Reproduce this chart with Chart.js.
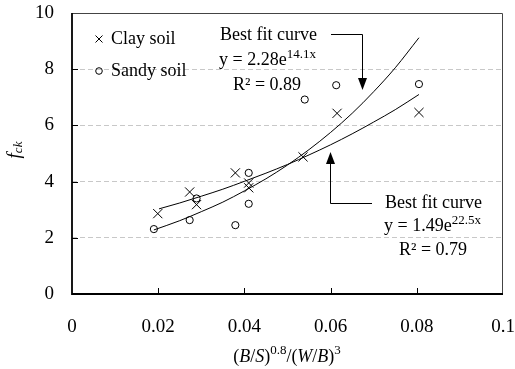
<!DOCTYPE html>
<html>
<head>
<meta charset="utf-8">
<script src="https://cdn.jsdelivr.net/npm/chart.js@4.4.1/dist/chart.umd.min.js"></script>
<style>
  html, body { margin: 0; padding: 0; background: #fff; }
</style>
</head>
<body>
<canvas id="chart" width="515" height="369"></canvas>
<script>
// measured points
const clayX = [0.0199, 0.0273, 0.0289, 0.0379, 0.041, 0.041, 0.0536, 0.0615, 0.0805];
const clayY = [2.86, 3.63, 3.18, 4.31, 3.95, 3.78, 4.88, 6.43, 6.46];
const sandyX = [0.019, 0.0273, 0.0289, 0.0379, 0.041, 0.041, 0.054, 0.0613, 0.0805];
const sandyY = [2.31, 2.63, 3.40, 2.45, 4.31, 3.21, 6.92, 7.43, 7.47];

// best fit curves
const sandyFitX = [0.019, 0.025, 0.03, 0.035, 0.04, 0.045, 0.05, 0.055, 0.06, 0.065, 0.07, 0.075, 0.0805];
const sandyFitY = [2.28, 2.61, 2.93, 3.27, 3.67, 4.10, 4.59, 5.14, 5.75, 6.43, 7.20, 8.05, 9.12];
const clayFitX = [0.0202, 0.025, 0.03, 0.035, 0.04, 0.045, 0.05, 0.055, 0.06, 0.065, 0.07, 0.075, 0.0805];
const clayFitY = [3.03, 3.24, 3.48, 3.73, 4.01, 4.30, 4.61, 4.95, 5.31, 5.70, 6.12, 6.56, 7.10];

const xTicks = [0, 0.02, 0.04, 0.06, 0.08, 0.1];
const yTicks = [0, 2, 4, 6, 8, 10];

const SERIF = '"Liberation Serif", "Times New Roman", serif';

function pts(xs, ys) {
  return xs.map((x, i) => ({ x: x, y: ys[i] }));
}

// text made of parts, some superscript / italic
function richText(ctx, parts, x, y, align) {
  let w = 0;
  parts.forEach((p) => {
    ctx.font = (p.italic ? "italic " : "") + (p.size || 18) + "px " + SERIF;
    p.w = ctx.measureText(p.t).width;
    w += p.w;
  });
  let cx = align === "center" ? x - w / 2 : x;
  parts.forEach((p) => {
    ctx.font = (p.italic ? "italic " : "") + (p.size || 18) + "px " + SERIF;
    ctx.fillText(p.t, cx, y + (p.dy || 0));
    cx += p.w;
  });
}

function arrowHead(ctx, x, y, dir) {
  ctx.beginPath();
  ctx.moveTo(x, y);
  ctx.lineTo(x - 4.5, y - dir * 12);
  ctx.lineTo(x + 4.5, y - dir * 12);
  ctx.closePath();
  ctx.fill();
}

// plot frame and inward ticks
const frame = {
  id: "frame",
  afterDraw(chart) {
    const ctx = chart.ctx;
    const a = chart.chartArea;
    const xs = chart.scales.x, ys = chart.scales.y;
    ctx.save();
    ctx.setLineDash([]);
    ctx.lineWidth = 1;
    ctx.strokeStyle = "#444";
    ctx.beginPath();
    ctx.moveTo(a.left, a.top + 0.5);
    ctx.lineTo(a.right - 0.5, a.top + 0.5);
    ctx.lineTo(a.right - 0.5, a.bottom);
    ctx.stroke();
    ctx.strokeStyle = "#000";
    ctx.lineWidth = 1.8;
    ctx.beginPath();
    ctx.moveTo(a.left, a.top);
    ctx.lineTo(a.left, a.bottom);
    ctx.lineTo(a.right, a.bottom);
    ctx.stroke();
    ctx.lineWidth = 1;
    ctx.beginPath();
    yTicks.slice(1, -1).forEach((v) => {
      const py = Math.round(ys.getPixelForValue(v)) + 0.5;
      ctx.moveTo(a.left, py);
      ctx.lineTo(a.left + 6, py);
    });
    xTicks.slice(1, -1).forEach((v) => {
      const px = Math.round(xs.getPixelForValue(v)) + 0.5;
      ctx.moveTo(px, a.bottom);
      ctx.lineTo(px, a.bottom - 6);
    });
    ctx.stroke();
    ctx.restore();
  }
};

const notes = {
  id: "notes",
  afterDraw(chart) {
    const ctx = chart.ctx;
    ctx.save();
    ctx.setLineDash([]);
    ctx.fillStyle = "#000";
    ctx.strokeStyle = "#000";
    ctx.lineWidth = 1;

    // legend
    ctx.beginPath();
    ctx.moveTo(95.5, 35.5); ctx.lineTo(102.5, 42.5);
    ctx.moveTo(102.5, 35.5); ctx.lineTo(95.5, 42.5);
    ctx.stroke();
    ctx.beginPath();
    ctx.arc(99, 71, 3.3, 0, Math.PI * 2);
    ctx.stroke();
    ctx.textBaseline = "middle";
    ctx.textAlign = "left";
    richText(ctx, [{ t: "Clay soil" }], 111, 39);
    richText(ctx, [{ t: "Sandy soil" }], 111, 71);

    // upper annotation
    richText(ctx, [{ t: "Best fit curve" }], 220, 35);
    richText(ctx, [{ t: "y = 2.28e" }, { t: "14.1x", size: 13, dy: -5 }], 219, 60);
    richText(ctx, [{ t: "R² = 0.89" }], 233, 85);
    ctx.beginPath();
    ctx.moveTo(331, 34.5);
    ctx.lineTo(362.5, 34.5);
    ctx.lineTo(362.5, 80);
    ctx.stroke();
    arrowHead(ctx, 362.5, 90, 1);

    // lower annotation
    ctx.beginPath();
    ctx.moveTo(330.5, 162);
    ctx.lineTo(330.5, 203.5);
    ctx.lineTo(372, 203.5);
    ctx.stroke();
    arrowHead(ctx, 330.5, 152, -1);
    richText(ctx, [{ t: "Best fit curve" }], 385, 203);
    richText(ctx, [{ t: "y = 1.49e" }, { t: "22.5x", size: 13, dy: -5 }], 384, 226);
    richText(ctx, [{ t: "R² = 0.79" }], 399, 250);

    // axis titles
    richText(ctx, [
      { t: "(" }, { t: "B", italic: true }, { t: "/" }, { t: "S", italic: true }, { t: ")" },
      { t: "0.8", size: 13, dy: -6 },
      { t: "/(" }, { t: "W", italic: true }, { t: "/" }, { t: "B", italic: true }, { t: ")" },
      { t: "3", size: 13, dy: -6 }
    ], 287, 357, "center");

    ctx.translate(15, 150);
    ctx.rotate(-Math.PI / 2);
    richText(ctx, [{ t: "f", italic: true, size: 19 }, { t: "ck", italic: true, size: 13, dy: 4 }], 0, 0, "center");
    ctx.restore();
  }
};

new Chart(document.getElementById("chart"), {
  type: "scatter",
  data: {
    datasets: [
      {
        label: "Clay soil",
        data: pts(clayX, clayY),
        pointStyle: "crossRot",
        pointRadius: 6.5,
        borderColor: "#000",
        borderWidth: 1
      },
      {
        label: "Sandy soil",
        data: pts(sandyX, sandyY),
        pointStyle: "circle",
        pointRadius: 3.6,
        borderColor: "#000",
        backgroundColor: "rgba(0,0,0,0)",
        borderWidth: 1
      },
      {
        label: "Sandy fit",
        data: pts(sandyFitX, sandyFitY),
        showLine: true,
        pointRadius: 0,
        borderColor: "#000",
        borderWidth: 1,
        cubicInterpolationMode: "monotone"
      },
      {
        label: "Clay fit",
        data: pts(clayFitX, clayFitY),
        showLine: true,
        pointRadius: 0,
        borderColor: "#000",
        borderWidth: 1,
        cubicInterpolationMode: "monotone"
      }
    ]
  },
  options: {
    responsive: false,
    animation: false,
    layout: { padding: { top: 13, right: 12 } },
    plugins: { legend: { display: false }, tooltip: { enabled: false } },
    scales: {
      x: {
        min: 0,
        max: 0.1,
        afterBuildTicks: (s) => { s.ticks = xTicks.map((v) => ({ value: v })); },
        afterFit: (s) => { s.height = 75; s.paddingLeft = 0; s.paddingRight = 0; },
        grid: { display: false },
        border: { display: false },
        ticks: {
          padding: 14,
          color: "#000",
          font: { family: SERIF, size: 19 },
          maxRotation: 0,
          callback: (v) => String(v)
        }
      },
      y: {
        min: 0,
        max: 10,
        afterBuildTicks: (s) => { s.ticks = yTicks.map((v) => ({ value: v })); },
        afterFit: (s) => { s.width = 72; s.paddingTop = 0; s.paddingBottom = 0; },
        grid: {
          drawTicks: false,
          color: (c) => (c.tick && c.tick.value > 0 && c.tick.value < 10 ? "#c8c8c8" : "rgba(0,0,0,0)")
        },
        border: { display: false, dash: [5, 3] },
        ticks: {
          padding: 18,
          color: "#000",
          font: { family: SERIF, size: 19 }
        }
      }
    }
  },
  plugins: [frame, notes]
});
</script>
</body>
</html>
